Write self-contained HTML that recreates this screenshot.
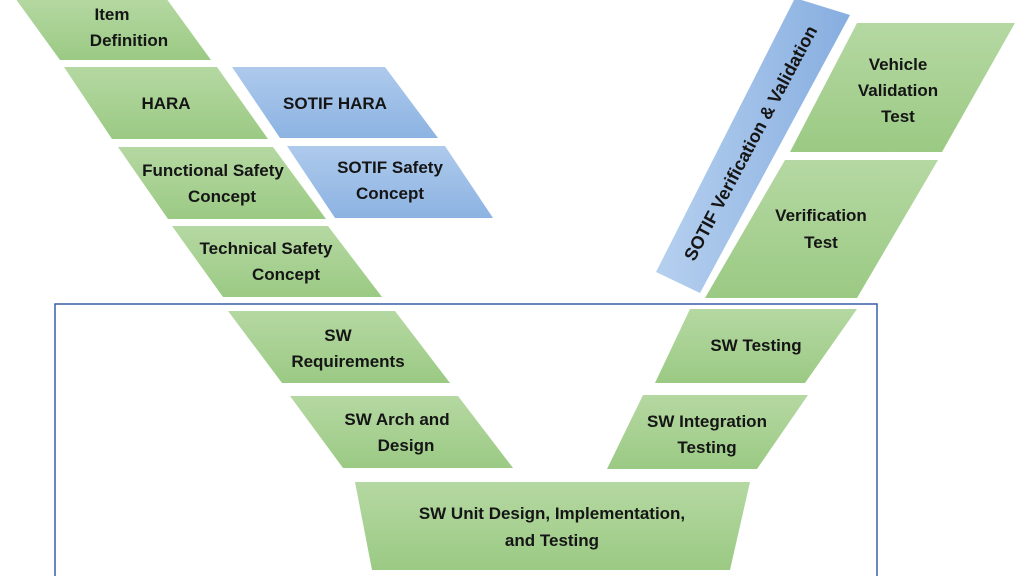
<!DOCTYPE html>
<html><head><meta charset="utf-8"><style>
html,body{margin:0;padding:0;background:#fff;}
svg text{font-family:"Liberation Sans",sans-serif;font-weight:bold;font-size:17px;fill:#151515;text-anchor:middle;}
</style></head><body>
<svg width="1024" height="576" viewBox="0 0 1024 576" xmlns="http://www.w3.org/2000/svg">
<defs>
<linearGradient id="g" x1="0" y1="0" x2="0" y2="1"><stop offset="0" stop-color="#b5d8a2"/><stop offset="1" stop-color="#9bca84"/></linearGradient>
<linearGradient id="b" x1="0" y1="0" x2="0" y2="1"><stop offset="0" stop-color="#aecaec"/><stop offset="1" stop-color="#8cb3e2"/></linearGradient>
<linearGradient id="bv" x1="0" y1="0" x2="1" y2="0"><stop offset="0" stop-color="#b6d0ef"/><stop offset="1" stop-color="#87aee0"/></linearGradient>
</defs>
<rect x="55" y="304" width="822" height="280" fill="none" stroke="#3a5ea8" stroke-width="1.5"/>
<polygon points="15,-2 166,-2 211,60 60,60" fill="url(#g)"/>
<polygon points="64,67 217,67 268,139 112,139" fill="url(#g)"/>
<polygon points="232,67 385,67 438,138 280,138" fill="url(#b)"/>
<polygon points="118,147 273,147 326,219 168,219" fill="url(#g)"/>
<polygon points="287,146 445,146 493,218 335,218" fill="url(#b)"/>
<polygon points="172,226 328,226 382,297 223,297" fill="url(#g)"/>
<polygon points="857,23 1015,23 942,152 790,152" fill="url(#g)"/>
<polygon points="785,160 938,160 857,298 705,298" fill="url(#g)"/>
<polygon points="795,-2 850,15 700,293 656,272" fill="url(#bv)"/>
<polygon points="228,311 395,311 450,383 282,383" fill="url(#g)"/>
<polygon points="290,396 458,396 513,468 343,468" fill="url(#g)"/>
<polygon points="355,482 750,482 730,570 372,570" fill="url(#g)"/>
<polygon points="690,309 857,309 805,383 655,383" fill="url(#g)"/>
<polygon points="643,395 808,395 757,469 607,469" fill="url(#g)"/>

<text x="112" y="20">Item</text><text x="129" y="46">Definition</text>
<text x="166" y="109">HARA</text>
<text x="335" y="109">SOTIF HARA</text>
<text x="213" y="176">Functional Safety</text><text x="222" y="202">Concept</text>
<text x="390" y="173">SOTIF Safety</text><text x="390" y="199">Concept</text>
<text x="266" y="254">Technical Safety</text><text x="286" y="280">Concept</text>
<text x="898" y="70">Vehicle</text><text x="898" y="96">Validation</text><text x="898" y="122">Test</text>
<text x="821" y="221">Verification</text><text x="821" y="248">Test</text>
<text transform="translate(756,146) rotate(-62)" style="font-size:18px">SOTIF Verification &amp; Validation</text>
<text x="338" y="341">SW</text><text x="348" y="367">Requirements</text>
<text x="397" y="425">SW Arch and</text><text x="406" y="451">Design</text>
<text x="552" y="519">SW Unit Design, Implementation,</text><text x="552" y="546">and Testing</text>
<text x="756" y="351">SW Testing</text>
<text x="707" y="427">SW Integration</text><text x="707" y="453">Testing</text>
</svg>
</body></html>
